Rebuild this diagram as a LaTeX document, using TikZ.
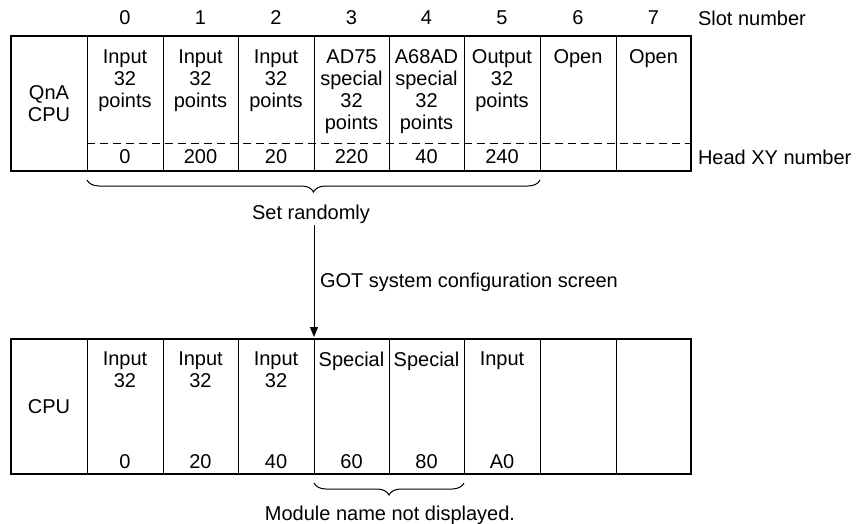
\documentclass[tikz,border=0pt]{standalone}
\usepackage{fontspec}
\setmainfont{Liberation Sans}
\usetikzlibrary{decorations.pathreplacing,arrows.meta}
\begin{document}
\begin{tikzpicture}[x=0.5pt,y=-0.5pt,
  every node/.style={font=\fontsize{10}{11}\selectfont, inner sep=0pt, outer sep=0pt},
  cell/.style={anchor=north, align=center},
  num/.style={anchor=center},
  label/.style={anchor=base},
  frame/.style={draw, line width=1.4pt},
  rule/.style={draw, line width=0.5pt},
  dashrule/.style={draw, line width=0.5pt, dash pattern=on 4pt off 2.5pt},
  brc/.style={draw, decorate, decoration={brace, amplitude=6pt, mirror}, line width=0.5pt},
  conn/.style={draw, line width=0.5pt, -{Triangle[length=5pt,width=4pt]}},
]
\useasboundingbox (0,0) rectangle (856,524);

% ---------- slot numbers ----------
\node[num] (s0) at (125,18) {0};
\node[num] (s1) at (200.5,18) {1};
\node[num] (s2) at (276,18) {2};
\node[num] (s3) at (351.5,18) {3};
\node[num] (s4) at (426.5,18) {4};
\node[num] (s5) at (502,18) {5};
\node[num] (s6) at (578,18) {6};
\node[num] (s7) at (653.5,18) {7};
\node[anchor=west] (slotlbl) at (698,18) {Slot number};

% ---------- top table ----------
\foreach \xx in {87,163,238,314,389,464,540,616} {
  \path[rule] (\xx,36) -- (\xx,171);
}
\path[dashrule] (87,143) -- (691,143);
\path[frame] (11,36) rectangle (691,171);

\node[num, align=center] (tcpu) at (49,104) {QnA\\CPU};
\node[cell] (t0) at (125,50) {Input\\32\\points};
\node[cell] (t1) at (200.5,50) {Input\\32\\points};
\node[cell] (t2) at (276,50) {Input\\32\\points};
\node[cell] (t3) at (351.5,50) {AD75\\special\\32\\points};
\node[cell] (t4) at (426.5,50) {A68AD\\special\\32\\points};
\node[cell] (t5) at (502,50) {Output\\32\\points};
\node[cell] (t6) at (578,50) {Open};
\node[cell] (t7) at (653.5,50) {Open};

\node[num] (h0) at (125,157) {0};
\node[num] (h1) at (200.5,157) {200};
\node[num] (h2) at (276,157) {20};
\node[num] (h3) at (351.5,157) {220};
\node[num] (h4) at (426.5,157) {40};
\node[num] (h5) at (502,157) {240};
\node[anchor=west] (headlbl) at (698,157) {Head XY number};

% ---------- brace and arrow ----------
\coordinate (b1l) at (87,180);
\coordinate (b1r) at (540,180);
\path[brc] (b1l) -- (b1r);
\node[label] (setr) at (311,219) {Set randomly};

\coordinate (arrstart) at (314,225);
\coordinate (arrend) at (314,337);
\path[conn] (arrstart) -- (arrend);
\node[label, anchor=base west] (gotlbl) at (320,287) {GOT system configuration screen};

% ---------- bottom table ----------
\foreach \xx in {87,163,238,314,389,464,540,616} {
  \path[rule] (\xx,339) -- (\xx,474);
}
\path[frame] (11,339) rectangle (691,474);

\node[num] (bcpu) at (49,407) {CPU};
\node[cell] (u0) at (125,352) {Input\\32};
\node[cell] (u1) at (200.5,352) {Input\\32};
\node[cell] (u2) at (276,352) {Input\\32};
\node[cell] (u3) at (351.5,352) {Special};
\node[cell] (u4) at (426.5,352) {Special};
\node[cell] (u5) at (502,352) {Input};

\node[num] (v0) at (125,462) {0};
\node[num] (v1) at (200.5,462) {20};
\node[num] (v2) at (276,462) {40};
\node[num] (v3) at (351.5,462) {60};
\node[num] (v4) at (426.5,462) {80};
\node[num] (v5) at (502,462) {A0};

\coordinate (b2l) at (314,483);
\coordinate (b2r) at (464,483);
\path[brc] (b2l) -- (b2r);
\node[label] (modlbl) at (390,520) {Module name not displayed.};
\end{tikzpicture}
\end{document}
